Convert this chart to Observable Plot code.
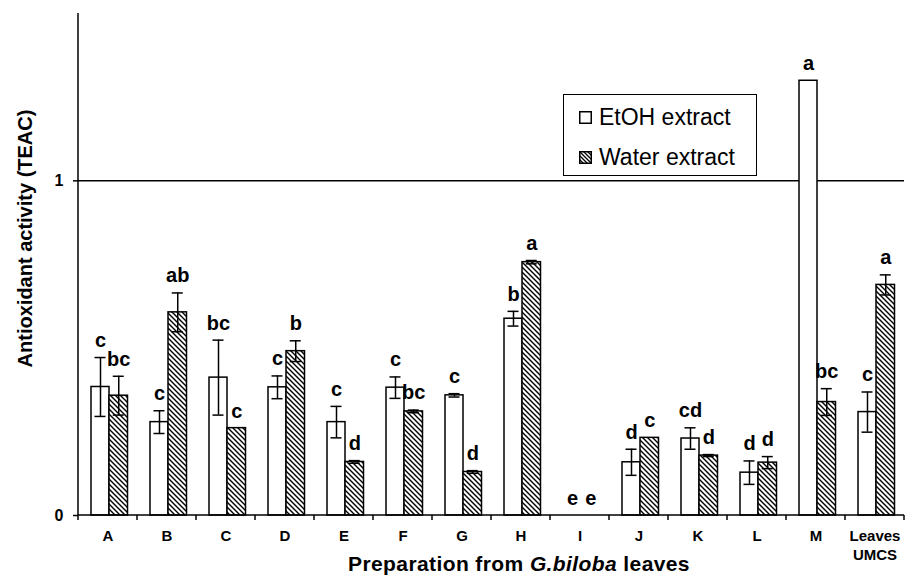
<!DOCTYPE html>
<html><head><meta charset="utf-8">
<script src="https://cdn.jsdelivr.net/npm/d3@7"></script>
<script src="https://cdn.jsdelivr.net/npm/@observablehq/plot@0.6"></script>
<style>
body{margin:0;background:#fff;font-family:"Liberation Sans",Arial,sans-serif;}
#wrap{position:relative;width:905px;height:576px;overflow:hidden;}
#legend{position:absolute;left:563px;top:94px;width:192px;height:80px;border:1.5px solid #000;background:#fff;}
.lrow{position:absolute;left:15px;height:26px;display:flex;align-items:center;font-size:23px;color:#000;white-space:nowrap;}
.lrow svg{margin-right:7px;}
#xlabel{position:absolute;left:269px;width:500px;top:552px;text-align:center;font-size:21px;font-weight:bold;letter-spacing:0.4px;color:#000;}
</style></head>
<body><div id="wrap"></div>
<script>
const categories = ["A","B","C","D","E","F","G","H","I","J","K","L","M","Leaves UMCS"];
const etoh     = [0.384, 0.279, 0.412, 0.383, 0.279, 0.382, 0.359, 0.588, 0, 0.159, 0.230, 0.128, 1.299, 0.309];
const etohErr  = [0.088, 0.034, 0.112, 0.034, 0.047, 0.032, 0.005, 0.022, 0, 0.039, 0.032, 0.035, 0, 0.060];
const water    = [0.358, 0.607, 0.261, 0.491, 0.160, 0.311, 0.130, 0.757, 0, 0.232, 0.179, 0.158, 0.339, 0.689];
const waterErr = [0.058, 0.058, 0, 0.031, 0.004, 0.004, 0.004, 0.005, 0, 0, 0.003, 0.018, 0.040, 0.030];
const etohLetters  = ["c","c","bc","c","c","c","c","b","e","d","cd","d","a","c"];
const waterLetters = ["bc","ab","c","b","d","bc","d","a","e","c","d","d","bc","a"];
const seriesNames = ["EtOH extract","Water extract"];
const yTicks = [0, 1];

const et = categories.map((c,i)=>({cat:c, value:etoh[i], err:etohErr[i], letter:etohLetters[i]}));
const wa = categories.map((c,i)=>({cat:c, value:water[i], err:waterErr[i], letter:waterLetters[i]}));
const hasErr = arr => arr.filter(d=>d.err>0);

function axisLines(index, scales, values, dims) {
  const x = scales.x, y = scales.y;
  const g = d3.create("svg:g").attr("stroke","black").attr("stroke-width",1.5).attr("fill","none");
  const y0 = y(0);
  g.append("line").attr("x1", dims.marginLeft).attr("x2", dims.marginLeft).attr("y1", dims.marginTop).attr("y2", y0);
  g.append("line").attr("x1", dims.marginLeft).attr("x2", dims.width - dims.marginRight).attr("y1", y0).attr("y2", y0);
  const dom = x.domain(); const bw = x.bandwidth();
  const bounds = dom.map(d=>x(d)).concat([x(dom[dom.length-1]) + bw]);
  for (const b of bounds) g.append("line").attr("x1",b).attr("x2",b).attr("y1",y0).attr("y2",y0+5);
  return g.node();
}

const E = {bar:{insetLeft:13, insetRight:28}, dx:-7.5, cap:{insetLeft:16.5, insetRight:31.5}};
const W = {bar:{insetLeft:31, insetRight:9.5}, dx:10.75, cap:{insetLeft:34.75, insetRight:13.25}};

const svg = Plot.plot({
  width: 905, height: 576,
  marginLeft: 78, marginRight: 1, marginTop: 13, marginBottom: 61,
  style: {fontFamily: "'Liberation Sans', Arial, sans-serif", background: "white", color: "black"},
  x: {domain: categories, padding: 0, round: false, axis: null},
  y: {domain: [0, 1.5], axis: null},
  marks: [
    Plot.ruleY([1], {stroke: "black", strokeWidth: 1.5}),
    Plot.barY(et, {x: "cat", y: "value", fill: "white", stroke: "black", strokeWidth: 1.5, ...E.bar}),
    Plot.barY(wa, {x: "cat", y: "value", fill: "url(#hatch)", stroke: "black", strokeWidth: 1.5, ...W.bar}),
    Plot.ruleX(hasErr(et), {x: "cat", y1: d=>d.value-d.err, y2: d=>d.value+d.err, dx: E.dx, stroke: "black", strokeWidth: 1.5}),
    Plot.ruleX(hasErr(wa), {x: "cat", y1: d=>d.value-d.err, y2: d=>d.value+d.err, dx: W.dx, stroke: "black", strokeWidth: 1.5}),
    Plot.tickY(hasErr(et), {x: "cat", y: d=>d.value+d.err, stroke: "black", strokeWidth: 1.5, ...E.cap}),
    Plot.tickY(hasErr(et), {x: "cat", y: d=>d.value-d.err, stroke: "black", strokeWidth: 1.5, ...E.cap}),
    Plot.tickY(hasErr(wa), {x: "cat", y: d=>d.value+d.err, stroke: "black", strokeWidth: 1.5, ...W.cap}),
    Plot.tickY(hasErr(wa), {x: "cat", y: d=>d.value-d.err, stroke: "black", strokeWidth: 1.5, ...W.cap}),
    Plot.text(et, {x: "cat", y: d=>d.value+d.err, text: "letter", dx: E.dx, dy: -17, fontSize: 20, fontWeight: "bold", fill: "black"}),
    Plot.text(wa, {x: "cat", y: d=>d.value+d.err, text: "letter", dx: W.dx, dy: -17, fontSize: 20, fontWeight: "bold", fill: "black"}),
    axisLines,
    Plot.axisY({ticks: yTicks, tickSize: 5, tickPadding: 10, fontSize: 16, fontWeight: "bold", label: null, strokeWidth: 1.5, tickFormat: d => String(d)}),
    Plot.axisX({tickSize: 0, tickPadding: 12, fontSize: 15, fontWeight: "bold", label: null, lineHeight: 1.25,
      tickFormat: d => d.replace(" ", "\n")}),
    Plot.text(["Antioxidant activity (TEAC)"], {frameAnchor: "left", textAnchor: "middle", lineAnchor: "middle", rotate: -90, dx: -53, dy: -26, fontSize: 20, fontWeight: "bold", fill: "black"})
  ]
});

const defs = d3.select(svg).insert("defs", ":first-child");
const pat = defs.append("pattern").attr("id","hatch").attr("patternUnits","userSpaceOnUse").attr("width",5).attr("height",5);
pat.append("rect").attr("width",5).attr("height",5).attr("fill","white");
pat.append("path").attr("d","M-1,4 l2,2 M0,0 l5,5 M4,-1 l2,2").attr("stroke","black").attr("stroke-width",1.4);

const wrap = document.getElementById("wrap");
wrap.appendChild(svg);

const legend = document.createElement("div");
legend.id = "legend";
const swatchHatch = `<svg width="13" height="13"><defs><pattern id="hatchL" patternUnits="userSpaceOnUse" width="4" height="4"><rect width="4" height="4" fill="white"/><path d="M-1,3 l2,2 M0,0 l4,4 M3,-1 l2,2" stroke="black" stroke-width="1.3"/></pattern></defs><rect x="0.75" y="0.75" width="11.5" height="11.5" fill="url(#hatchL)" stroke="black" stroke-width="1.5"/></svg>`;
const swatchPlain = `<svg width="13" height="13"><rect x="0.75" y="0.75" width="11.5" height="11.5" fill="white" stroke="black" stroke-width="1.5"/></svg>`;
legend.innerHTML = `<div class="lrow" style="top:9px">${swatchPlain}<span>${seriesNames[0]}</span></div>
<div class="lrow" style="top:49px">${swatchHatch}<span>${seriesNames[1]}</span></div>`;
wrap.appendChild(legend);

const xl = document.createElement("div");
xl.id = "xlabel";
xl.innerHTML = "Preparation from <i>G.biloba</i> leaves";
wrap.appendChild(xl);
</script>
</body></html>
